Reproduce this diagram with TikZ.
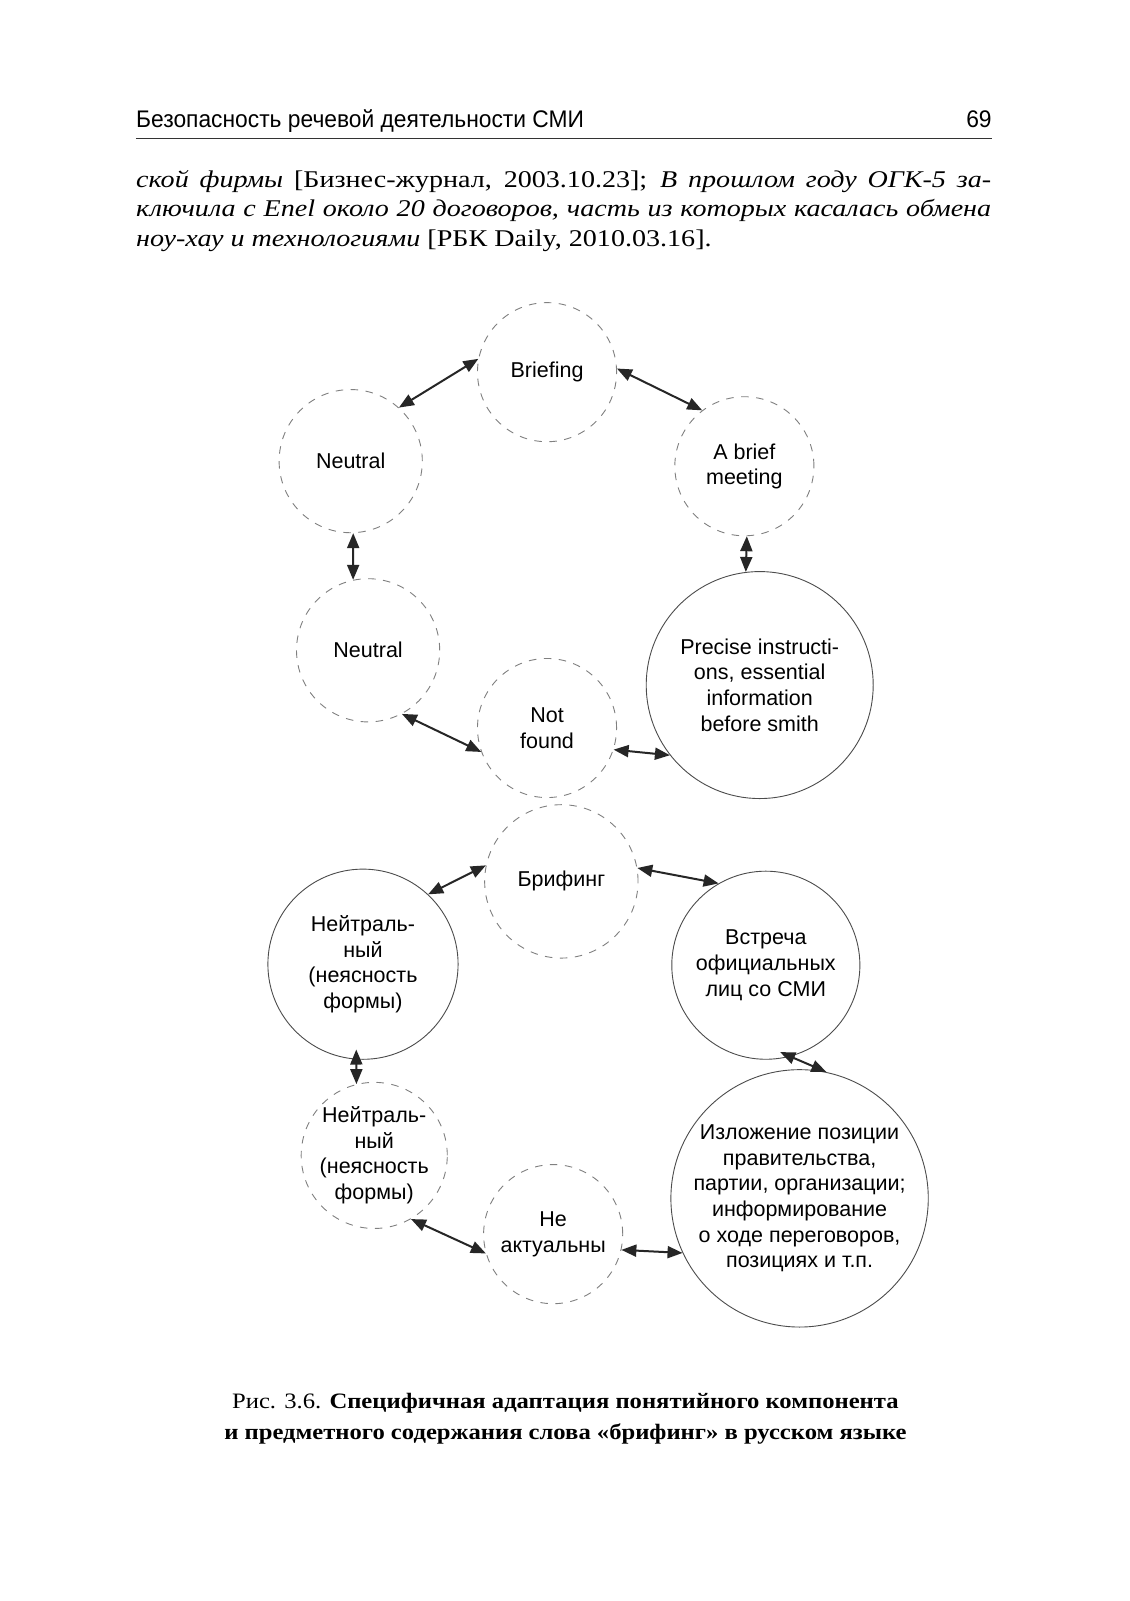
\documentclass[tikz,border=0pt]{standalone}
\usepackage{fontspec}
\setmainfont{Liberation Serif}
\newfontfamily\bodyfont[FakeStretch=1.17]{Liberation Serif}
\newfontfamily\capfont[FakeStretch=1.12]{Liberation Serif}
\newfontfamily\diagfont{Liberation Sans}
\newfontfamily\headfont[FakeStretch=0.95]{Liberation Sans}
\usetikzlibrary{arrows.meta}
\begin{document}
\begin{tikzpicture}[x=1.0225pt,y=-1.0225pt,
  cfont/.style={font=\diagfont\fontsize{21.5}{25.6}\selectfont},
  dcirc/.style={circle, draw=black!50, dash pattern=on 7.5pt off 7.5pt, line width=0.9pt, inner sep=0pt, align=center, cfont},
  scirc/.style={circle, draw=black!70, line width=0.9pt, inner sep=0pt, align=center, cfont},
  link/.style={{Triangle[length=15pt,width=12pt]}-{Triangle[length=15pt,width=12pt]}, line width=2pt, draw=black!85}]
\useasboundingbox[fill=white] (0,0) rectangle (1105.1,1565.8);

% header
\node[anchor=base west, inner sep=0pt] (head) at (133,125) {\headfont\fontsize{24}{28}\selectfont Безопасность речевой деятельности СМИ};
\node[anchor=base east, inner sep=0pt] (pnum) at (970,125) {\headfont\fontsize{24}{28}\selectfont 69};
\coordinate (rl) at (133,135.5);
\coordinate (rr) at (970,135.5);
\draw[line width=1.8pt, black!80] (rl) -- (rr);

% body text
\node[anchor=base west, inner sep=0pt] (l1) at (133,183) {\bodyfont\fontsize{24}{29}\selectfont\makebox[855pt][s]{\textit{ской фирмы} [Бизнес-журнал, 2003.10.23]; \textit{В прошлом году ОГК-5 за-}}};
\node[anchor=base west, inner sep=0pt] (l2) at (133,212) {\bodyfont\fontsize{24}{29}\selectfont\makebox[855pt][s]{\textit{ключила с Enel около 20 договоров, часть из которых касалась обмена}}};
\node[anchor=base west, inner sep=0pt] (l3) at (133,241) {\bodyfont\fontsize{24}{29}\selectfont\textit{ноу-хау и технологиями} [РБК Daily, 2010.03.16].};

% top diagram
\node[dcirc, minimum size=139.1pt] (brief) at (535,364) {Briefing};
\node[dcirc, minimum size=143.2pt] (neu1) at (343,451) {Neutral};
\node[dcirc, minimum size=139.1pt] (meet) at (728,456) {A brief\\meeting};
\node[dcirc, minimum size=143.2pt] (neu2) at (360,636) {Neutral};
\node[dcirc, minimum size=139.1pt] (nf) at (535,712) {Not\\found};
\node[scirc, minimum size=227pt] (prec) at (743,670) {Precise instructi-\\ons, essential\\information\\before smith};

\draw[link] (neu1.48) -- (brief.169);
\draw[link] (brief.3) -- (meet.127);
\draw[link] (neu1.-88) -- (neu2.102);
\draw[link] (meet.-88) -- (prec.97);
\draw[link] (neu2.-62) -- (nf.-160);
\draw[link] (nf.-18) -- (prec.-142);

% bottom diagram
\node[dcirc, minimum size=153.4pt] (bri) at (549,862) {Брифинг};
\node[scirc, minimum size=190.2pt] (ne1) at (355,943) {Нейтраль-\\ный\\(неясность\\формы)};
\node[scirc, minimum size=188.1pt] (vst) at (749,944) {Встреча\\официальных\\лиц со СМИ};
\node[dcirc, minimum size=143.2pt] (ne2) at (366,1130) {Нейтраль-\\ный\\(неясность\\формы)};
\node[dcirc, minimum size=139.1pt] (nea) at (541,1207) {Не\\актуальны};
\node[scirc, minimum size=255.6pt] (izl) at (782,1172) {Изложение позиции\\правительства,\\партии, организации;\\информирование\\о ходе переговоров,\\позициях и т.п.};

\draw[link] (ne1.47) -- (bri.168);
\draw[link] (bri.10) -- (vst.120);
\draw[link, shorten <=-10pt] (ne1.-94) -- (ne2.104);
\draw[link, shorten <=-11pt] (vst.-75) -- (izl.78);
\draw[link] (ne2.-60) -- (nea.-164);
\draw[link] (nea.-13) -- (izl.-155);

% caption
\node[anchor=base, inner sep=0pt] (cap1) at (553,1378) {\capfont\fontsize{22}{30}\selectfont Рис. 3.6. \textbf{Специфичная адаптация понятийного компонента}};
\node[anchor=base, inner sep=0pt] (cap2) at (553,1408) {\capfont\fontsize{22}{30}\selectfont\textbf{и предметного содержания слова «брифинг» в русском языке}};
\end{tikzpicture}
\end{document}
